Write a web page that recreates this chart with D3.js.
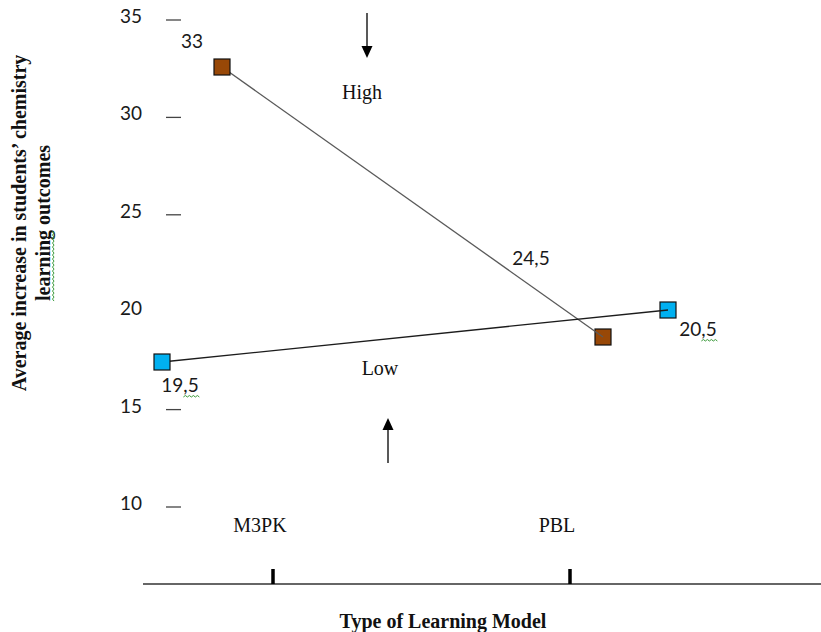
<!DOCTYPE html>
<html>
<head>
<meta charset="utf-8">
<script src="https://cdn.jsdelivr.net/npm/d3@7/dist/d3.min.js"></script>
<style>
  html, body { margin: 0; padding: 0; background: #fff; }
  svg { display: block; }
</style>
</head>
<body>
<svg id="chart" width="821" height="632"></svg>
<script>
// ---- data ----
const categories = ["M3PK", "PBL"];
const highValues = [33, 24.5];
const lowValues = [19.5, 20.5];
const tickValues = [10, 15, 20, 25, 30, 35];
const dashedTicks = [10, 15, 25, 30, 35];
const seriesNames = ["High", "Low"];

// ---- layout ----
const W = 821, H = 632;
const svg = d3.select("#chart");
const serif = "'Liberation Serif', 'Times New Roman', serif";
const sans = "Lato, 'Open Sans', sans-serif";
const fmt = d3.formatLocale({decimal: ",", thousands: ".", grouping: [3], currency: ["", ""]}).format("~g");

// axis scales
const yAxis = d3.scaleLinear().domain([10, 35]).range([507, 20]);
const xAxis = d3.scalePoint().domain(categories).range([273, 570]);

// per-series placement scales (the figure places each series in its own band)
const series = [
  { name: "High", values: highValues, fill: "#984807", line: "#5a5a5a",
    x: d3.scalePoint().domain(categories).range([222, 603]),
    y: d3.scaleLinear().domain(d3.extent(highValues)).range([337, 67]),
    labelOffsets: [[-30, -19], [-72, -72]], squiggle: [false, false] },
  { name: "Low", values: lowValues, fill: "#00B0F0", line: "#1c1c1c",
    x: d3.scalePoint().domain(categories).range([162, 668]),
    y: d3.scaleLinear().domain(d3.extent(lowValues)).range([362, 310]),
    labelOffsets: [[18, 30], [30, 26]], squiggle: [true, true] }
];

function squigglePath(x0, x1, y) {
  let p = `M${x0},${y}`;
  let up = true;
  for (let x = x0 + 2; x <= x1; x += 2) {
    p += ` L${x},${y + (up ? -1.5 : 0)}`;
    up = !up;
  }
  return p;
}

// y tick dashes
svg.append("g").selectAll("line").data(dashedTicks).join("line")
  .attr("x1", 166).attr("x2", 181)
  .attr("y1", d => yAxis(d)).attr("y2", d => yAxis(d))
  .attr("stroke", "#444").attr("stroke-width", 1.3);

// y tick labels
svg.append("g").selectAll("text").data(tickValues).join("text")
  .attr("x", 131).attr("y", d => yAxis(d) + 3)
  .attr("text-anchor", "middle")
  .attr("font-family", sans).attr("font-size", 19).attr("fill", "#1a1a1a")
  .text(d => d);

// x axis line and ticks
svg.append("line").attr("x1", 143).attr("x2", W).attr("y1", 584).attr("y2", 584)
  .attr("stroke", "#333").attr("stroke-width", 1.5);
svg.append("g").selectAll("line").data(categories).join("line")
  .attr("x1", d => xAxis(d)).attr("x2", d => xAxis(d))
  .attr("y1", 569).attr("y2", 584)
  .attr("stroke", "#000").attr("stroke-width", 3.5);

// category labels
svg.append("g").selectAll("text").data(categories).join("text")
  .attr("x", d => xAxis(d) - 13).attr("y", 532)
  .attr("text-anchor", "middle")
  .attr("font-family", serif).attr("font-size", 20).attr("fill", "#111")
  .text(d => d);

// x title
svg.append("text").attr("x", 443).attr("y", 628).attr("text-anchor", "middle")
  .attr("font-family", serif).attr("font-size", 20).attr("font-weight", "bold").attr("fill", "#111")
  .text("Type of Learning Model");

// y title
const yt = svg.append("g").attr("transform", "translate(26,223) rotate(-90)");
yt.append("text").attr("x", 0).attr("y", 0).attr("text-anchor", "middle")
  .attr("font-family", serif).attr("font-size", 20).attr("font-weight", "bold").attr("fill", "#111")
  .text("Average increase in students\u2019 chemistry");
const yt2 = yt.append("text").attr("x", 0).attr("y", 24).attr("text-anchor", "middle")
  .attr("font-family", serif).attr("font-size", 20).attr("font-weight", "bold").attr("fill", "#111")
  .text("learning outcomes");
{
  const total = yt2.node().getComputedTextLength();
  const wl = yt2.node().getSubStringLength(0, 8);
  yt.append("path").attr("d", squigglePath(-total / 2, -total / 2 + wl, 24 + 4))
    .attr("fill", "none").attr("stroke", "#3a9a3a").attr("stroke-width", 1);
}

// markers layer helpers
const size = 16;
function drawMarkers(idx) {
  series.forEach(s => {
    const c = categories[idx];
    svg.append("rect")
      .attr("x", s.x(c) - size / 2).attr("y", s.y(s.values[idx]) - size / 2)
      .attr("width", size).attr("height", size)
      .attr("fill", s.fill).attr("stroke", "#111").attr("stroke-width", 1.2);
  });
}

// PBL markers beneath lines
drawMarkers(1);

// lines
series.forEach(s => {
  const line = d3.line().x((d, i) => s.x(categories[i])).y(d => s.y(d));
  svg.append("path").datum(s.values).attr("d", line)
    .attr("fill", "none").attr("stroke", s.line).attr("stroke-width", 1.3);
});

// M3PK markers above lines
drawMarkers(0);

// value labels
series.forEach(s => {
  s.values.forEach((v, i) => {
    const c = categories[i];
    const [dx, dy] = s.labelOffsets[i];
    const t = svg.append("text")
      .attr("x", s.x(c) + dx).attr("y", s.y(v) + dy)
      .attr("text-anchor", "middle")
      .attr("font-family", sans).attr("font-size", 19).attr("fill", "#1a1a1a")
      .text(fmt(v));
    if (s.squiggle[i]) {
      const str = fmt(v);
      const k = str.indexOf(",");
      if (k >= 0) {
        const total = t.node().getComputedTextLength();
        const start = s.x(c) + dx - total / 2 + t.node().getSubStringLength(0, k);
        svg.append("path").attr("d", squigglePath(start, s.x(c) + dx + total / 2 + 2, s.y(v) + dy + 5))
          .attr("fill", "none").attr("stroke", "#3a9a3a").attr("stroke-width", 1);
      }
    }
  });
});

// High / Low annotations with arrows
svg.append("text").attr("x", 362).attr("y", 99).attr("text-anchor", "middle")
  .attr("font-family", serif).attr("font-size", 20).attr("fill", "#111").text(seriesNames[0]);
svg.append("text").attr("x", 380).attr("y", 375).attr("text-anchor", "middle")
  .attr("font-family", serif).attr("font-size", 20).attr("fill", "#111").text(seriesNames[1]);

function arrow(x, yFrom, yTip) {
  const dir = yTip > yFrom ? 1 : -1;
  const headLen = 12, headHalf = 5.5;
  svg.append("line").attr("x1", x).attr("x2", x).attr("y1", yFrom).attr("y2", yTip - dir * headLen)
    .attr("stroke", "#222").attr("stroke-width", 1.5);
  svg.append("path")
    .attr("d", `M${x},${yTip} L${x - headHalf},${yTip - dir * headLen} L${x + headHalf},${yTip - dir * headLen} Z`)
    .attr("fill", "#000");
}
arrow(367, 13, 58);
arrow(388, 463, 418);
</script>
</body>
</html>
